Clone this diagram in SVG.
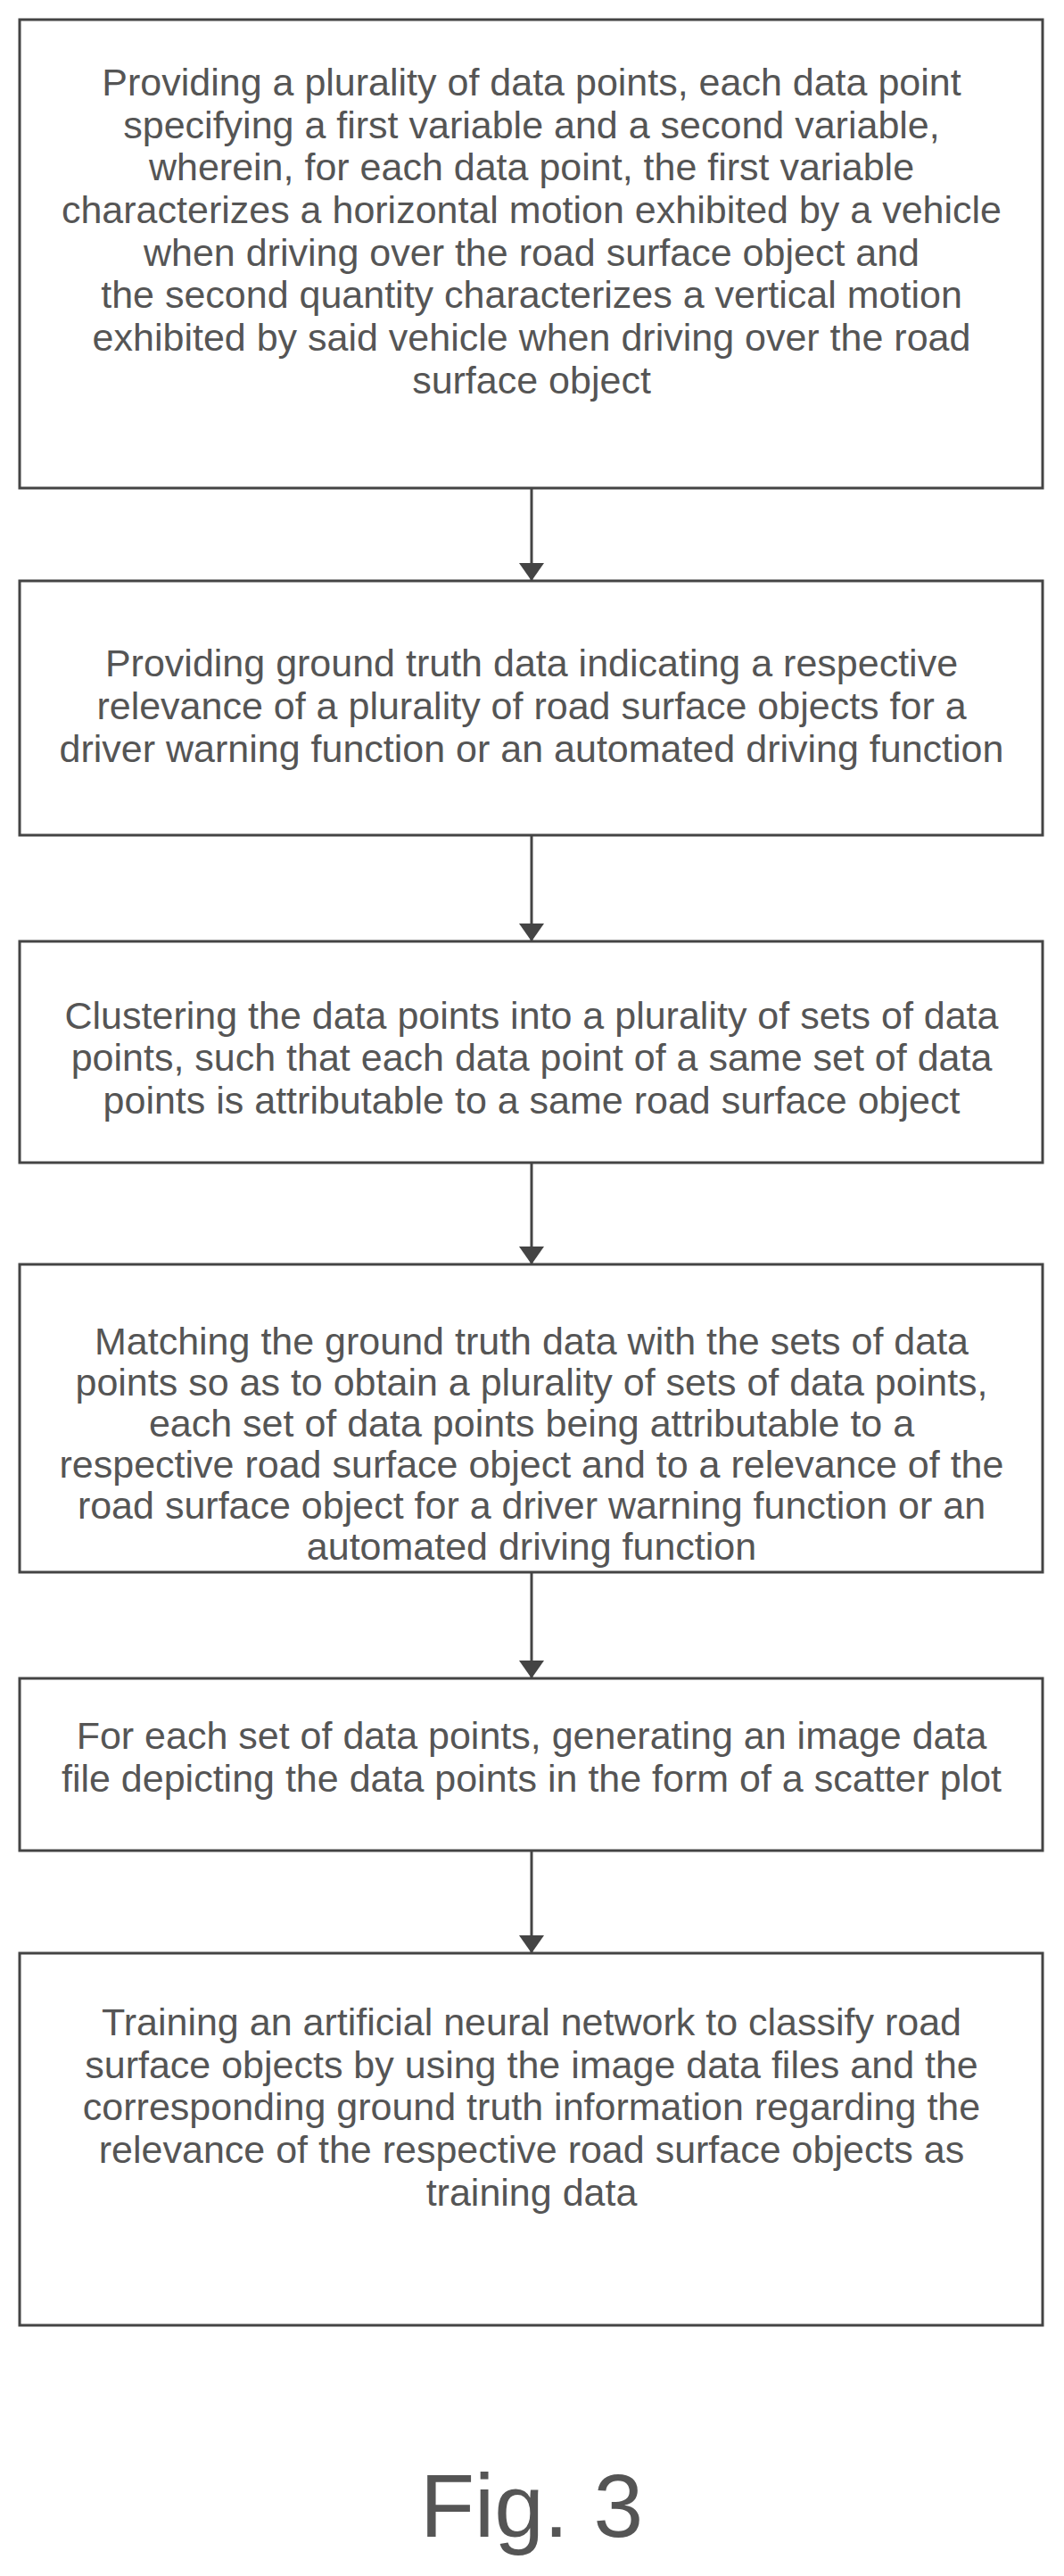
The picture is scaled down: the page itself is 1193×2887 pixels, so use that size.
<svg xmlns="http://www.w3.org/2000/svg" width="1193" height="2887" viewBox="0 0 1193 2887">
<style>
.box{fill:#fff;stroke:#444;stroke-width:3}
.t{font-family:"Liberation Sans",Arial,sans-serif;font-size:43px;fill:#555;text-anchor:middle;dominant-baseline:central}
.c{stroke:#444;stroke-width:3;fill:none}
</style>
<defs>
<marker id="a" viewBox="0 0 20 28" refX="20" refY="14" markerWidth="20" markerHeight="28" orient="auto" markerUnits="userSpaceOnUse"><path d="M0,0 L20,14 L0,28 Z" fill="#444"/></marker></defs>
<rect width="1193" height="2887" fill="#fff"/>
<g id="connectors">
<line class="c" x1="596" y1="547" x2="596" y2="651" marker-end="url(#a)"/>
<line class="c" x1="596" y1="936" x2="596" y2="1055" marker-end="url(#a)"/>
<line class="c" x1="596" y1="1303" x2="596" y2="1417" marker-end="url(#a)"/>
<line class="c" x1="596" y1="1762" x2="596" y2="1881" marker-end="url(#a)"/>
<line class="c" x1="596" y1="2074" x2="596" y2="2189" marker-end="url(#a)"/>
</g>
<g id="n1"><rect class="box" x="22" y="22" width="1147" height="525"/>
<text class="t" x="596" y="92">Providing a plurality of data points, each data point</text>
<text class="t" x="596" y="140">specifying a first variable and a second variable,</text>
<text class="t" x="596" y="187">wherein, for each data point, the first variable</text>
<text class="t" x="596" y="235">characterizes a horizontal motion exhibited by a vehicle</text>
<text class="t" x="596" y="283">when driving over the road surface object and</text>
<text class="t" x="596" y="330">the second quantity characterizes a vertical motion</text>
<text class="t" x="596" y="378">exhibited by said vehicle when driving over the road</text>
<text class="t" x="596" y="426">surface object</text></g>
<g id="n2"><rect class="box" x="22" y="651" width="1147" height="285"/>
<text class="t" x="596" y="743">Providing ground truth data indicating a respective</text>
<text class="t" x="596" y="791">relevance of a plurality of road surface objects for a</text>
<text class="t" x="596" y="839">driver warning function or an automated driving function</text></g>
<g id="n3"><rect class="box" x="22" y="1055" width="1147" height="248"/>
<text class="t" x="596" y="1138">Clustering the data points into a plurality of sets of data</text>
<text class="t" x="596" y="1185">points, such that each data point of a same set of data</text>
<text class="t" x="596" y="1233">points is attributable to a same road surface object</text></g>
<g id="n4"><rect class="box" x="22" y="1417" width="1147" height="345"/>
<text class="t" x="596" y="1503">Matching the ground truth data with the sets of data</text>
<text class="t" x="596" y="1549">points so as to obtain a plurality of sets of data points,</text>
<text class="t" x="596" y="1595">each set of data points being attributable to a</text>
<text class="t" x="596" y="1641">respective road surface object and to a relevance of the</text>
<text class="t" x="596" y="1687">road surface object for a driver warning function or an</text>
<text class="t" x="596" y="1733">automated driving function</text></g>
<g id="n5"><rect class="box" x="22" y="1881" width="1147" height="193"/>
<text class="t" x="596" y="1945">For each set of data points, generating an image data</text>
<text class="t" x="596" y="1993">file depicting the data points in the form of a scatter plot</text></g>
<g id="n6"><rect class="box" x="22" y="2189" width="1147" height="417"/>
<text class="t" x="596" y="2266">Training an artificial neural network to classify road</text>
<text class="t" x="596" y="2314">surface objects by using the image data files and the</text>
<text class="t" x="596" y="2361">corresponding ground truth information regarding the</text>
<text class="t" x="596" y="2409">relevance of the respective road surface objects as</text>
<text class="t" x="596" y="2457">training data</text></g>
<text class="t" x="596" y="2808" style="font-size:100px">Fig. 3</text>
</svg>
